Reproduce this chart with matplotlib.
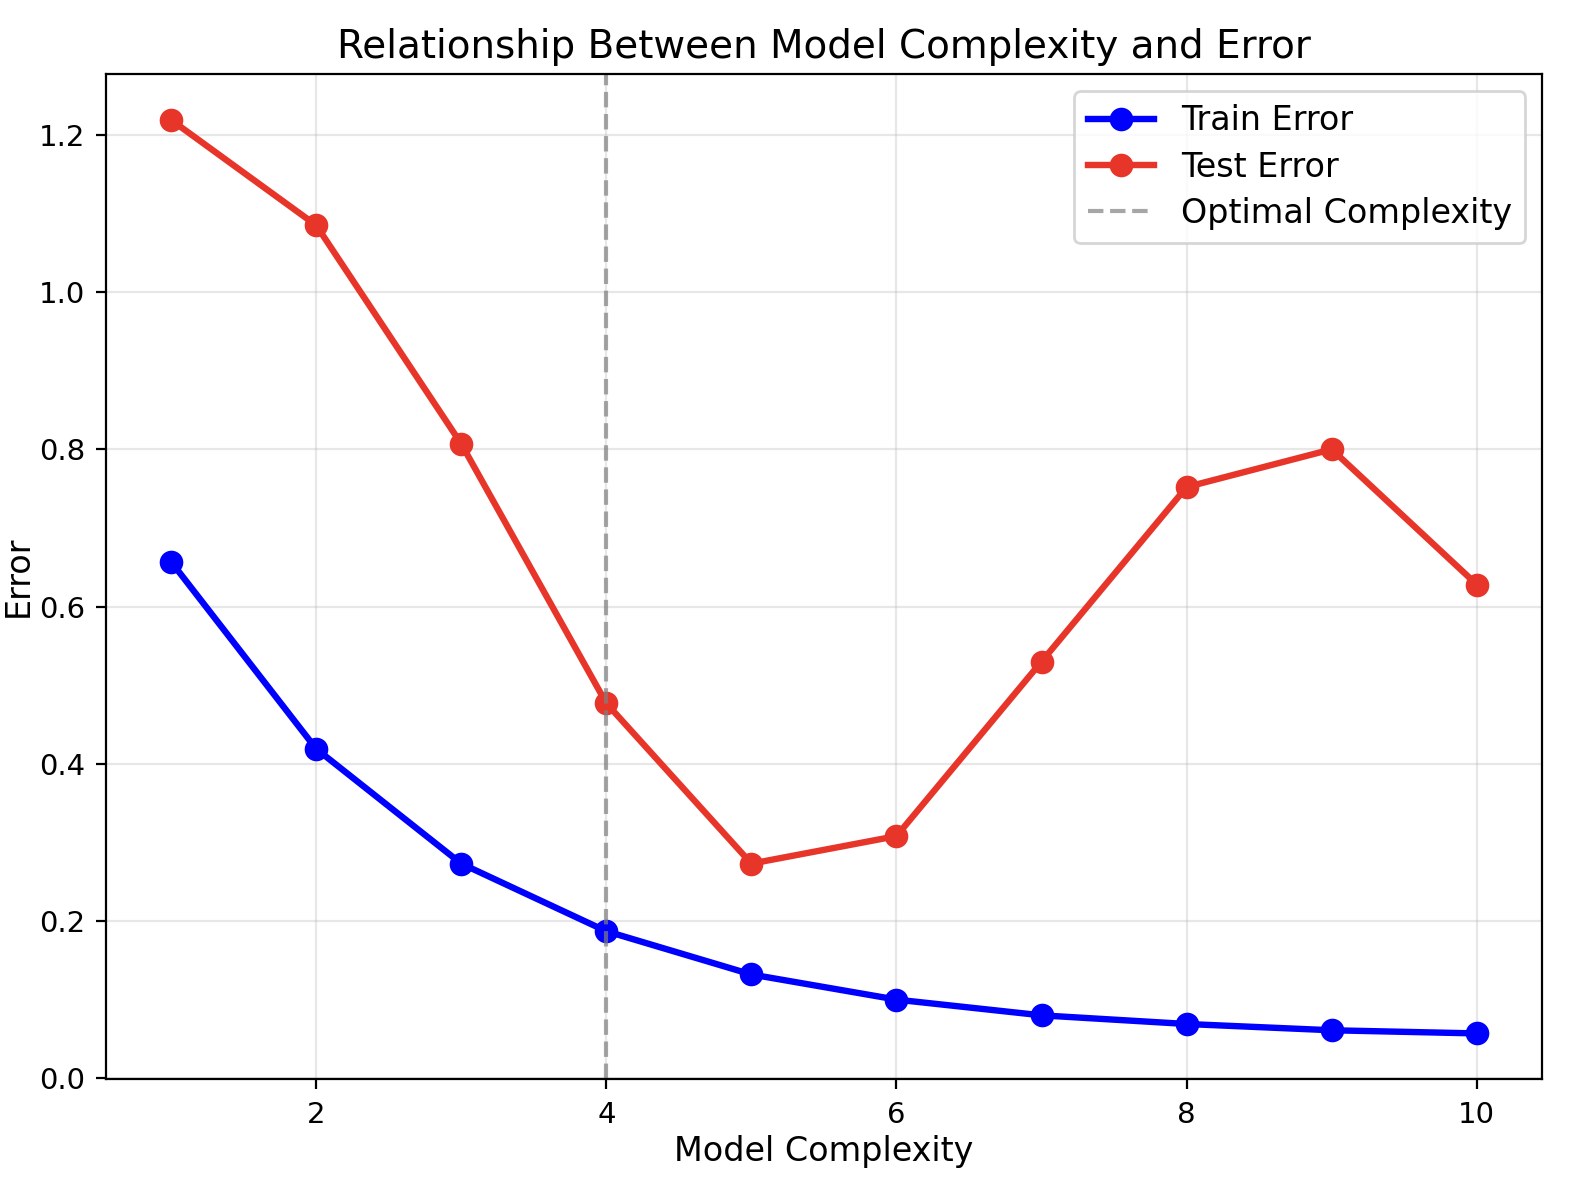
import numpy as np
import matplotlib
matplotlib.use("Agg")
import matplotlib.pyplot as plt

# ─── Data ─────────────────────────────────────────────────────────────────────
complexity  = [1, 2, 3, 4, 5, 6, 7, 8, 9, 10]
train_error = [0.657, 0.419, 0.273, 0.187, 0.132, 0.100, 0.080, 0.069, 0.061, 0.057]
test_error  = [1.219, 1.085, 0.807, 0.477, 0.273, 0.308, 0.530, 0.752, 0.800, 0.628]
optimal_complexity = 4

# ─── Plot ─────────────────────────────────────────────────────────────────────
fig, ax = plt.subplots(figsize=(7.98, 5.95), dpi=200)
fig.subplots_adjust(left=0.0663, right=0.9662, top=0.9376, bottom=0.0932)

ax.plot(complexity, train_error, color="blue", marker="o", linewidth=2.3,
        markersize=7.5, label="Train Error")
ax.plot(complexity, test_error, color="#e8352a", marker="o", linewidth=2.3,
        markersize=7.5, label="Test Error")
ax.axvline(optimal_complexity, color="gray", linestyle="--", alpha=0.7,
           label="Optimal Complexity")

ax.set_title("Relationship Between Model Complexity and Error", fontsize=14)
ax.set_xlabel("Model Complexity", fontsize=12, labelpad=2)
ax.set_ylabel("Error", fontsize=12, labelpad=1.5)
ax.tick_params(labelsize=10.5, pad=4)
ax.tick_params(axis="x", pad=4.5)
ax.grid(True, alpha=0.3)
ax.legend(fontsize=12, labelspacing=0.4)

fig.savefig("out.png", dpi=200)
